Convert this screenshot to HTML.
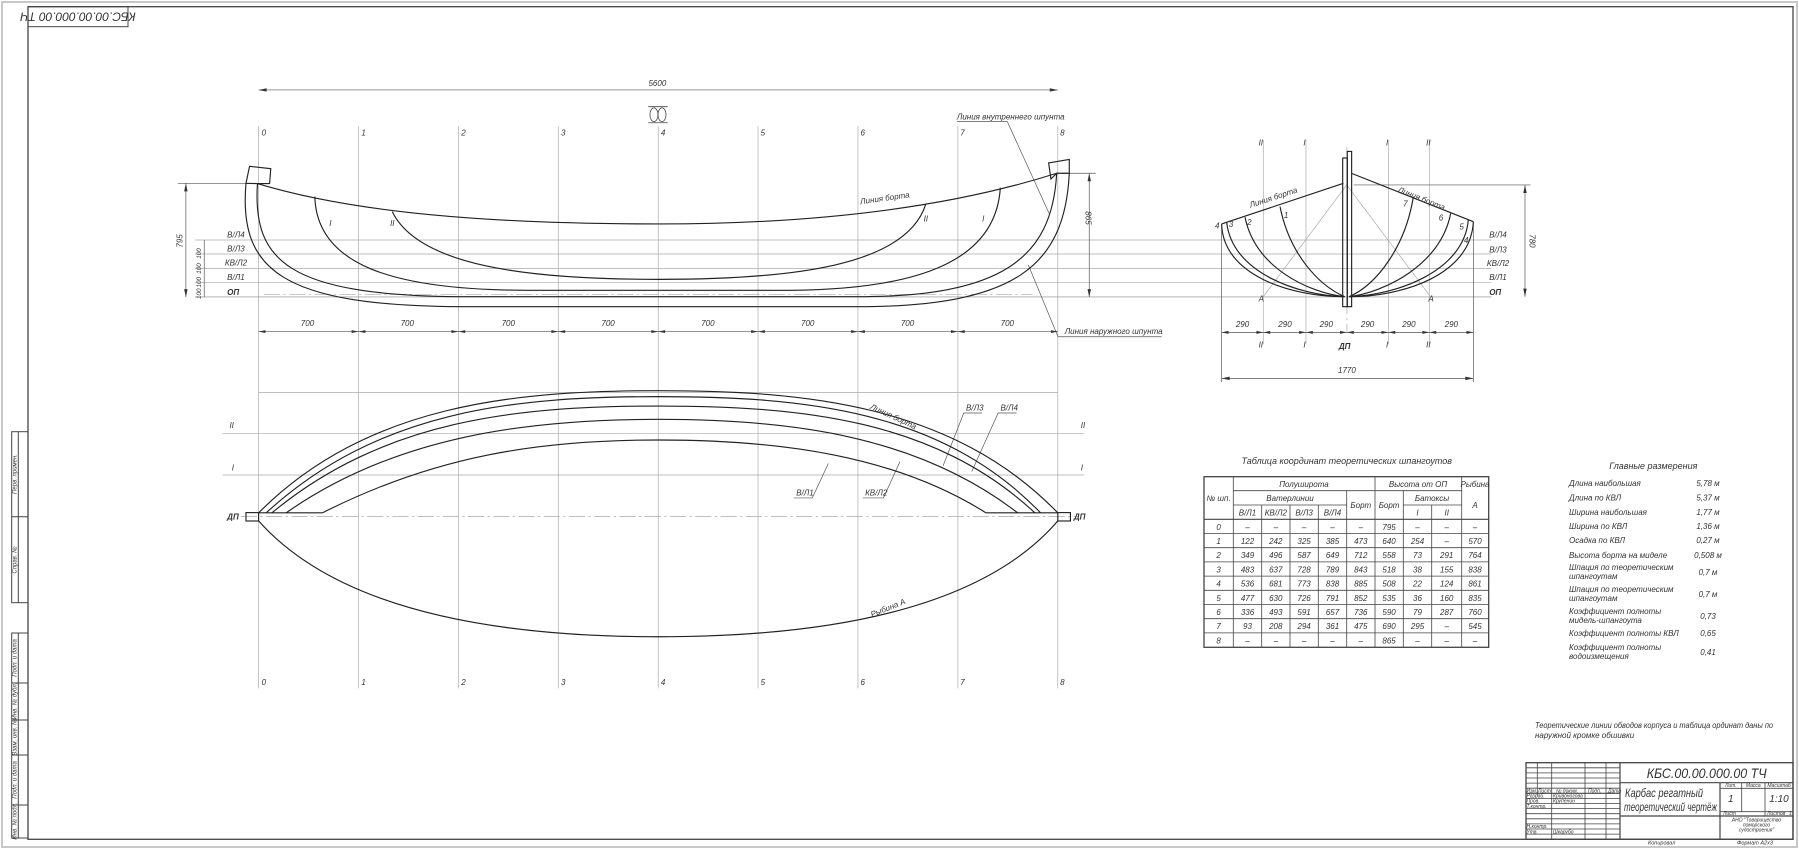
<!DOCTYPE html>
<html><head><meta charset="utf-8"><style>
html,body{margin:0;padding:0;background:#fff}
svg text{font-family:"Liberation Sans Narrow","Liberation Sans",sans-serif;font-style:italic;fill:#333}
</style></head><body>
<svg width="1799" height="849" viewBox="0 0 1799 849" xmlns="http://www.w3.org/2000/svg">
<rect x="0" y="0" width="1799" height="849" fill="#fff"/>
<rect x="2" y="2" width="1795" height="845" fill="none" stroke="#c8c8c8" stroke-width="2"/>
<!-- frame -->
<rect x="28" y="6.7" width="1765" height="832.6" fill="none" stroke="#444" stroke-width="1.3"/>
<rect x="28" y="6.7" width="100" height="20" fill="none" stroke="#444" stroke-width="1"/>
<text x="78" y="16.7" font-size="12" text-anchor="middle" transform="rotate(180 78 16.7)" dy="4">КБС.00.00.000.00 ТЧ</text>
<!-- left strips -->
<g fill="none" stroke="#444" stroke-width="1">
<rect x="11.7" y="431.7" width="16.3" height="171"/>
<line x1="18.3" y1="431.7" x2="18.3" y2="602.7"/>
<line x1="11.7" y1="516.7" x2="28" y2="516.7"/>
<rect x="11.7" y="633" width="16.3" height="205"/>
<line x1="18.3" y1="633" x2="18.3" y2="838"/>
<line x1="11.7" y1="683" x2="28" y2="683"/>
<line x1="11.7" y1="720" x2="28" y2="720"/>
<line x1="11.7" y1="755" x2="28" y2="755"/>
<line x1="11.7" y1="805" x2="28" y2="805"/>
</g>
<g font-size="6">
<text transform="translate(16.5 474) rotate(-90)" text-anchor="middle">Перв. примен.</text>
<text transform="translate(16.5 560) rotate(-90)" text-anchor="middle">Справ. №</text>
<text transform="translate(16.5 658) rotate(-90)" text-anchor="middle">Подп. и дата</text>
<text transform="translate(16.5 701) rotate(-90)" text-anchor="middle">Инв. № дубл.</text>
<text transform="translate(16.5 737) rotate(-90)" text-anchor="middle">Взам. инв. №</text>
<text transform="translate(16.5 780) rotate(-90)" text-anchor="middle">Подп. и дата</text>
<text transform="translate(16.5 821) rotate(-90)" text-anchor="middle">Инв. № подл.</text>
</g>

<g transform="scale(1.1473)">
<g stroke="#aaa" stroke-width="0.6">
<line x1="225.4" y1="110" x2="225.4" y2="600"/>
<line x1="312.5" y1="110" x2="312.5" y2="600"/>
<line x1="399.5" y1="110" x2="399.5" y2="600"/>
<line x1="486.6" y1="110" x2="486.6" y2="600"/>
<line x1="573.7" y1="110" x2="573.7" y2="600"/>
<line x1="660.7" y1="110" x2="660.7" y2="600"/>
<line x1="747.8" y1="110" x2="747.8" y2="600"/>
<line x1="834.9" y1="110" x2="834.9" y2="600"/>
<line x1="922" y1="110" x2="922" y2="600"/>
<line x1="170" y1="209.2" x2="1300" y2="209.2"/>
<line x1="170" y1="221.4" x2="1300" y2="221.4"/>
<line x1="170" y1="233.9" x2="1300" y2="233.9"/>
<line x1="170" y1="246.4" x2="1300" y2="246.4"/>
<line x1="170" y1="258.8" x2="1300" y2="258.8" stroke="#888"/>
<line x1="225.4" y1="342" x2="922" y2="342"/>
<line x1="194" y1="377.7" x2="945" y2="377.7"/>
<line x1="194" y1="414" x2="945" y2="414"/>
<line x1="210" y1="450.3" x2="940" y2="450.3" stroke-dasharray="14 3 2 3"/>
<line x1="1101.1" y1="122" x2="1101.1" y2="300"/>
<line x1="1138.3" y1="122" x2="1138.3" y2="300"/>
<line x1="1210.1" y1="122" x2="1210.1" y2="300"/>
<line x1="1245.8" y1="122" x2="1245.8" y2="300"/>
<line x1="1174" y1="128" x2="1174" y2="290" stroke-dasharray="14 3 2 3"/>
<line x1="1173.8" y1="161.2" x2="1101.1" y2="258.6"/>
<line x1="1173.8" y1="161.2" x2="1246.9" y2="258.6"/>
<line x1="230" y1="256.5" x2="900" y2="256.5" stroke-dasharray="14 3 2 3"/>
</g>
<g stroke="#555" stroke-width="0.6" fill="none">
<line x1="225.4" y1="78.4" x2="922" y2="78.4"/>
<line x1="225.4" y1="289" x2="922" y2="289"/>
<line x1="162" y1="159.8" x2="162" y2="259"/>
<line x1="155" y1="159.8" x2="224" y2="159.8"/>
<line x1="178" y1="209.2" x2="178" y2="259"/>
<line x1="949.4" y1="151" x2="949.4" y2="259"/>
<line x1="925" y1="151" x2="955" y2="151"/>
<line x1="1064.8" y1="289.7" x2="1284.2" y2="289.7"/>
<line x1="1064.8" y1="329.8" x2="1284.2" y2="329.8"/>
<line x1="1064.8" y1="196" x2="1064.8" y2="333"/>
<line x1="1284.2" y1="194" x2="1284.2" y2="333"/>
<line x1="1329.2" y1="161.2" x2="1329.2" y2="258.6"/>
<line x1="1180" y1="161.2" x2="1334" y2="161.2"/>
<polyline points="834,106 878,106 914.4,186"/>
<polyline points="896.3,231 922.2,293.5 1012.5,293.5"/>
<polyline points="822,406 840,360 856,360"/>
<polyline points="847,411 870,360 886,360"/>
<polyline points="722,404 708,434 692,434"/>
<polyline points="784.4,402.4 770,434 752,434"/>
</g>
<g fill="#333">
<path d="M225.4,78.4 l7,-1.5 v3z M922,78.4 l-7,-1.5 v3z M162,159.8 l-1.5,7 h3z M162,259 l-1.5,-7 h3z M949.4,151 l-1.5,7 h3z M949.4,259 l-1.5,-7 h3z M1329.2,161.2 l-1.5,7 h3z M1329.2,258.6 l-1.5,-7 h3z M1064.8,329.8 l7,-1.5 v3z M1284.2,329.8 l-7,-1.5 v3z"/>
<path d="M225.4,289 l6,-1.3 v2.6z M312.5,289 l-6,-1.3 v2.6z M312.5,289 l6,-1.3 v2.6z M399.5,289 l-6,-1.3 v2.6z M399.5,289 l6,-1.3 v2.6z M486.6,289 l-6,-1.3 v2.6z M486.6,289 l6,-1.3 v2.6z M573.7,289 l-6,-1.3 v2.6z M573.7,289 l6,-1.3 v2.6z M660.7,289 l-6,-1.3 v2.6z M660.7,289 l6,-1.3 v2.6z M747.8,289 l-6,-1.3 v2.6z M747.8,289 l6,-1.3 v2.6z M834.9,289 l-6,-1.3 v2.6z M834.9,289 l6,-1.3 v2.6z M922,289 l-6,-1.3 v2.6z"/>
<path d="M1064.8,289.7 l6,-1.3 v2.6z M1101.1,289.7 l-6,-1.3 v2.6z M1101.1,289.7 l6,-1.3 v2.6z M1138.3,289.7 l-6,-1.3 v2.6z M1138.3,289.7 l6,-1.3 v2.6z M1174,289.7 l-6,-1.3 v2.6z M1174,289.7 l6,-1.3 v2.6z M1210.1,289.7 l-6,-1.3 v2.6z M1210.1,289.7 l6,-1.3 v2.6z M1245.8,289.7 l-6,-1.3 v2.6z M1245.8,289.7 l6,-1.3 v2.6z M1284.2,289.7 l-6,-1.3 v2.6z"/>
</g>
<g fill="none" stroke="#222" stroke-width="1">
<path d="M214.4,159.8 C208,235 245,266 399,267.3 L747,267.3 C885,267.3 928,232 932,151"/>
<path d="M224.4,160 C220,228 252,257 399,258.6 L747,258.6 C872,258.6 917,226 921,151"/>
<path d="M224.4,160 C310,186 430,195.2 574.4,195.2 C715,195.2 830,180 921,151"/>
<path d="M274.4,171.4 C276,230 340,253 460,253 L690,253 C800,252 868,228 871.9,163.6"/>
<path d="M341.9,184.5 C365,232 460,243.5 574,243.5 C690,243.5 790,232 806.9,178"/>
<polygon points="217.5,145 236,147 235,160 224.4,160 214.4,159.8"/>
<polygon points="914,142 932,139 932,151 921,151 916,156"/>
<path d="M225.4,447 C320,352 450,340.5 573.9,340.5 C700,340.5 830,352 922,447"/>
<path d="M232,447 C330,357 450,345.7 574,345.7 C700,345.7 820,357 907,447"/>
<path d="M237,447 C335,366 450,353.9 574,353.9 C700,353.9 815,366 902,447"/>
<path d="M249.4,447 C345,380 460,365.5 574,365.5 C690,365.5 800,380 887,447"/>
<path d="M281,447 C380,397 470,383.5 574,383.5 C680,383.5 780,397 859.4,447"/>
<path d="M225.4,447 H281 M859.4,447 H922"/>
<path d="M225.4,454 C300,538 450,555 573.9,555 C700,555 850,538 922,454"/>
<rect x="214.4" y="446.8" width="11" height="7.3"/>
<rect x="922" y="446.8" width="11" height="7.3"/>
<rect x="1170.3" y="137.7" width="4" height="129.6"/>
<rect x="1174.3" y="132" width="3.8" height="135.3"/>
<path d="M1170.9,159.8 L1064.8,195.2 M1178.1,151.1 L1284.2,193.2"/>
<path d="M1064.8,195.2 C1066,240 1125,258.6 1172,258.6"/>
<path d="M1069.2,193.8 C1074,238 1132,257.5 1172,258.6"/>
<path d="M1085.2,189.4 C1094,233 1140,255 1172,258.6"/>
<path d="M1115.7,180.1 C1124,222 1150,249 1172,258.6"/>
<path d="M1284.2,193.2 C1282,240 1222,258.6 1176,258.6"/>
<path d="M1279.8,191.6 C1276,237 1216,257.5 1176,258.6"/>
<path d="M1264.4,186 C1256,231 1206,255 1176,258.6"/>
<path d="M1231.9,171.4 C1225,215 1200,248 1176,258.6"/>
</g>
<g fill="none" stroke="#444" stroke-width="0.7">
<ellipse cx="570" cy="100" rx="3.5" ry="6"/><ellipse cx="577" cy="100" rx="3.5" ry="6"/>
<line x1="565" y1="93" x2="582" y2="93"/><line x1="565" y1="107" x2="582" y2="107"/>
</g>
<g font-size="7">
<text x="573" y="75" text-anchor="middle">5600</text>
<text x="228" y="118">0</text><text x="315" y="118">1</text><text x="402" y="118">2</text><text x="489" y="118">3</text><text x="576" y="118">4</text><text x="663" y="118">5</text><text x="750" y="118">6</text><text x="837" y="118">7</text><text x="924" y="118">8</text>
<text x="228" y="597">0</text><text x="315" y="597">1</text><text x="402" y="597">2</text><text x="489" y="597">3</text><text x="576" y="597">4</text><text x="663" y="597">5</text><text x="750" y="597">6</text><text x="837" y="597">7</text><text x="924" y="597">8</text>
<text x="198" y="207">В/Л4</text><text x="198" y="219">В/Л3</text><text x="196" y="231.5">КВ/Л2</text><text x="198" y="244">В/Л1</text><text x="198" y="257" font-weight="bold">ОП</text>
<text transform="translate(159 210) rotate(-90)" text-anchor="middle">795</text>
<text transform="translate(175 221) rotate(-90)" text-anchor="middle" font-size="5.5">100</text>
<text transform="translate(175 234) rotate(-90)" text-anchor="middle" font-size="5.5">100</text>
<text transform="translate(175 246) rotate(-90)" text-anchor="middle" font-size="5.5">100</text>
<text transform="translate(175 256) rotate(-90)" text-anchor="middle" font-size="5.5">100</text>
<text transform="translate(946 190) rotate(90)" text-anchor="middle">865</text>
<text x="268" y="284" text-anchor="middle">700</text><text x="355" y="284" text-anchor="middle">700</text><text x="443" y="284" text-anchor="middle">700</text><text x="530" y="284" text-anchor="middle">700</text><text x="617" y="284" text-anchor="middle">700</text><text x="704" y="284" text-anchor="middle">700</text><text x="791" y="284" text-anchor="middle">700</text><text x="878" y="284" text-anchor="middle">700</text>
<text x="287" y="197">I</text><text x="340" y="197">II</text><text x="805" y="193">II</text><text x="856" y="193">I</text>
<text transform="translate(750 178) rotate(-8)">Линия борта</text>
<text x="834" y="104">Линия внутреннего шпунта</text>
<text x="928" y="291">Линия наружного шпунта</text>
<text x="200" y="373">II</text><text x="202" y="410">I</text><text x="942" y="373">II</text><text x="942" y="410">I</text>
<text x="198" y="453" font-weight="bold">ДП</text><text x="936" y="453" font-weight="bold">ДП</text>
<text transform="translate(758 356) rotate(25)">Линия борта</text>
<text x="842" y="358">В/Л3</text><text x="872" y="358">В/Л4</text>
<text x="694" y="432">В/Л1</text><text x="754" y="432">КВ/Л2</text>
<text transform="translate(760 538) rotate(-22)">Рыбина А</text>
<text x="1097" y="127">II</text><text x="1136" y="127">I</text><text x="1208" y="127">I</text><text x="1243" y="127">II</text>
<text x="1097" y="303">II</text><text x="1136" y="303">I</text><text x="1208" y="303">I</text><text x="1243" y="303">II</text>
<text x="1167" y="304" font-weight="bold">ДП</text>
<text transform="translate(1090 181) rotate(-18)">Линия борта</text>
<text transform="translate(1218 167) rotate(22)">Линия борта</text>
<text x="1059" y="199">4</text><text x="1071" y="198">3</text><text x="1087" y="196">2</text><text x="1119" y="190">1</text>
<text x="1223" y="180">7</text><text x="1254" y="192">6</text><text x="1272" y="200">5</text><text x="1276" y="212">4</text>
<text x="1097" y="263">A</text><text x="1245" y="263">A</text>
<text x="1298" y="207">В/Л4</text><text x="1298" y="220">В/Л3</text><text x="1296" y="232">КВ/Л2</text><text x="1298" y="244">В/Л1</text><text x="1298" y="257" font-weight="bold">ОП</text>
<text transform="translate(1333 210) rotate(90)" text-anchor="middle">780</text>
<text x="1083" y="285" text-anchor="middle">290</text><text x="1120" y="285" text-anchor="middle">290</text><text x="1156" y="285" text-anchor="middle">290</text><text x="1192" y="285" text-anchor="middle">290</text><text x="1228" y="285" text-anchor="middle">290</text><text x="1265" y="285" text-anchor="middle">290</text>
<text x="1174" y="325" text-anchor="middle">1770</text>
</g>
</g>

<text x="1346.7" y="464" font-size="9" text-anchor="middle">Таблица координат теоретических шпангоутов</text>
<g fill="none" stroke="#444" stroke-width="0.8">
<rect x="1204" y="476.7" width="284.7" height="170.6" stroke-width="1.3"/>
<line x1="1204" y1="519.3" x2="1488.7" y2="519.3" stroke-width="1.2"/>
<line x1="1233.3" y1="476.7" x2="1233.3" y2="647.3"/>
<line x1="1261.7" y1="505" x2="1261.7" y2="647.3"/>
<line x1="1290" y1="505" x2="1290" y2="647.3"/>
<line x1="1318.3" y1="505" x2="1318.3" y2="647.3"/>
<line x1="1346.7" y1="490.7" x2="1346.7" y2="647.3"/>
<line x1="1375" y1="476.7" x2="1375" y2="647.3"/>
<line x1="1403.3" y1="490.7" x2="1403.3" y2="647.3"/>
<line x1="1431.7" y1="505" x2="1431.7" y2="647.3"/>
<line x1="1461.7" y1="476.7" x2="1461.7" y2="647.3"/>
<line x1="1233.3" y1="490.7" x2="1461.7" y2="490.7"/>
<line x1="1233.3" y1="505" x2="1346.7" y2="505"/>
<line x1="1403.3" y1="505" x2="1461.7" y2="505"/>
<path d="M1204 533.5H1488.7M1204 547.7H1488.7M1204 561.9H1488.7M1204 576.1H1488.7M1204 590.3H1488.7M1204 604.5H1488.7M1204 618.7H1488.7M1204 632.9H1488.7"/>
</g>
<g font-size="8" text-anchor="middle">
<text x="1218.6" y="501">№ шп.</text>
<text x="1304" y="487">Полуширота</text>
<text x="1290" y="501">Ватерлинии</text>
<text x="1247.5" y="515.5">В/Л1</text><text x="1275.8" y="515.5">КВ/Л2</text><text x="1304.1" y="515.5">В/Л3</text><text x="1332.5" y="515.5">В/Л4</text>
<text x="1360.8" y="508">Борт</text><text x="1389.1" y="508">Борт</text>
<text x="1418" y="487">Высота от ОП</text><text x="1475" y="487">Рыбина</text>
<text x="1432" y="501">Батоксы</text><text x="1417.5" y="515.5">I</text><text x="1446.7" y="515.5">II</text><text x="1475" y="508">A</text>
</g>
<g font-size="8" text-anchor="middle">
<text y="530" x="1218.6">0</text><text y="530" x="1247.5">–</text><text y="530" x="1275.8">–</text><text y="530" x="1304.1">–</text><text y="530" x="1332.5">–</text><text y="530" x="1360.8">–</text><text y="530" x="1389.1">795</text><text y="530" x="1417.5">–</text><text y="530" x="1446.7">–</text><text y="530" x="1475">–</text>
<text y="544" x="1218.6">1</text><text y="544" x="1247.5">122</text><text y="544" x="1275.8">242</text><text y="544" x="1304.1">325</text><text y="544" x="1332.5">385</text><text y="544" x="1360.8">473</text><text y="544" x="1389.1">640</text><text y="544" x="1417.5">254</text><text y="544" x="1446.7">–</text><text y="544" x="1475">570</text>
<text y="558.2" x="1218.6">2</text><text y="558.2" x="1247.5">349</text><text y="558.2" x="1275.8">496</text><text y="558.2" x="1304.1">587</text><text y="558.2" x="1332.5">649</text><text y="558.2" x="1360.8">712</text><text y="558.2" x="1389.1">558</text><text y="558.2" x="1417.5">73</text><text y="558.2" x="1446.7">291</text><text y="558.2" x="1475">764</text>
<text y="572.4" x="1218.6">3</text><text y="572.4" x="1247.5">483</text><text y="572.4" x="1275.8">637</text><text y="572.4" x="1304.1">728</text><text y="572.4" x="1332.5">789</text><text y="572.4" x="1360.8">843</text><text y="572.4" x="1389.1">518</text><text y="572.4" x="1417.5">38</text><text y="572.4" x="1446.7">155</text><text y="572.4" x="1475">838</text>
<text y="586.6" x="1218.6">4</text><text y="586.6" x="1247.5">536</text><text y="586.6" x="1275.8">681</text><text y="586.6" x="1304.1">773</text><text y="586.6" x="1332.5">838</text><text y="586.6" x="1360.8">885</text><text y="586.6" x="1389.1">508</text><text y="586.6" x="1417.5">22</text><text y="586.6" x="1446.7">124</text><text y="586.6" x="1475">861</text>
<text y="600.8" x="1218.6">5</text><text y="600.8" x="1247.5">477</text><text y="600.8" x="1275.8">630</text><text y="600.8" x="1304.1">726</text><text y="600.8" x="1332.5">791</text><text y="600.8" x="1360.8">852</text><text y="600.8" x="1389.1">535</text><text y="600.8" x="1417.5">36</text><text y="600.8" x="1446.7">160</text><text y="600.8" x="1475">835</text>
<text y="615" x="1218.6">6</text><text y="615" x="1247.5">336</text><text y="615" x="1275.8">493</text><text y="615" x="1304.1">591</text><text y="615" x="1332.5">657</text><text y="615" x="1360.8">736</text><text y="615" x="1389.1">590</text><text y="615" x="1417.5">79</text><text y="615" x="1446.7">287</text><text y="615" x="1475">760</text>
<text y="629.2" x="1218.6">7</text><text y="629.2" x="1247.5">93</text><text y="629.2" x="1275.8">208</text><text y="629.2" x="1304.1">294</text><text y="629.2" x="1332.5">361</text><text y="629.2" x="1360.8">475</text><text y="629.2" x="1389.1">690</text><text y="629.2" x="1417.5">295</text><text y="629.2" x="1446.7">–</text><text y="629.2" x="1475">545</text>
<text y="643.4" x="1218.6">8</text><text y="643.4" x="1247.5">–</text><text y="643.4" x="1275.8">–</text><text y="643.4" x="1304.1">–</text><text y="643.4" x="1332.5">–</text><text y="643.4" x="1360.8">–</text><text y="643.4" x="1389.1">865</text><text y="643.4" x="1417.5">–</text><text y="643.4" x="1446.7">–</text><text y="643.4" x="1475">–</text>
</g>

<text x="1653.3" y="469" font-size="9" text-anchor="middle">Главные размерения</text>
<g font-size="8">
<text x="1569" y="486">Длина наибольшая</text><text x="1708" y="486" text-anchor="middle">5,78 м</text>
<text x="1569" y="500.5">Длина по КВЛ</text><text x="1708" y="500.5" text-anchor="middle">5,37 м</text>
<text x="1569" y="515">Ширина наибольшая</text><text x="1708" y="515" text-anchor="middle">1,77 м</text>
<text x="1569" y="529">Ширина по КВЛ</text><text x="1708" y="529" text-anchor="middle">1,36 м</text>
<text x="1569" y="543">Осадка по КВЛ</text><text x="1708" y="543" text-anchor="middle">0,27 м</text>
<text x="1569" y="558">Высота борта на миделе</text><text x="1708" y="558" text-anchor="middle">0,508 м</text>
<text x="1569" y="570">Шпация по теоретическим</text><text x="1569" y="579">шпангоутам</text><text x="1708" y="575" text-anchor="middle">0,7 м</text>
<text x="1569" y="592">Шпация по теоретическим</text><text x="1569" y="601">шпангоутам</text><text x="1708" y="597" text-anchor="middle">0,7 м</text>
<text x="1569" y="614">Коэффициент полноты</text><text x="1569" y="623">мидель-шпангоута</text><text x="1708" y="619" text-anchor="middle">0,73</text>
<text x="1569" y="636">Коэффициент полноты КВЛ</text><text x="1708" y="636" text-anchor="middle">0,65</text>
<text x="1569" y="650">Коэффициент полноты</text><text x="1569" y="659">водоизмещения</text><text x="1708" y="655" text-anchor="middle">0,41</text>
</g>
<text x="1535" y="728" font-size="8" textLength="238" lengthAdjust="spacingAndGlyphs">Теоретические линии обводов корпуса и таблица ординат даны по</text>
<text x="1535" y="738" font-size="8">наружной кромке обшивки</text>

<g fill="none" stroke="#444" stroke-width="0.8">
<rect x="1526" y="762.7" width="267" height="76.6" stroke-width="1.3"/>
<line x1="1620" y1="762.7" x2="1620" y2="839.3" stroke-width="1.2"/>
<line x1="1537.3" y1="762.7" x2="1537.3" y2="796"/>
<line x1="1551.7" y1="762.7" x2="1551.7" y2="839.3"/>
<line x1="1585" y1="762.7" x2="1585" y2="839.3"/>
<line x1="1606" y1="762.7" x2="1606" y2="839.3"/>
<path d="M1526 767.8H1620M1526 772.9H1620M1526 778H1620M1526 783.1H1620M1526 788.2H1620M1526 798.4H1620M1526 803.5H1620M1526 808.6H1620M1526 813.7H1620M1526 818.8H1620M1526 823.9H1620M1526 829H1620M1526 834.1H1620"/>
<line x1="1526" y1="793.3" x2="1620" y2="793.3" stroke-width="1.2"/>
<line x1="1620" y1="782.7" x2="1793" y2="782.7" stroke-width="1.2"/>
<line x1="1620" y1="816" x2="1793" y2="816" stroke-width="1.2"/>
<line x1="1720" y1="782.7" x2="1720" y2="839.3" stroke-width="1.2"/>
<line x1="1720" y1="788.3" x2="1793" y2="788.3"/>
<line x1="1720" y1="811.7" x2="1793" y2="811.7"/>
<line x1="1741.7" y1="782.7" x2="1741.7" y2="811.7"/>
<line x1="1765" y1="782.7" x2="1765" y2="816"/>
</g>
<text x="1706.7" y="778" font-size="14" text-anchor="middle" textLength="120" lengthAdjust="spacingAndGlyphs">КБС.00.00.000.00 ТЧ</text>
<text x="1625" y="797" font-size="12" textLength="78" lengthAdjust="spacingAndGlyphs">Карбас регатный</text>
<text x="1624" y="811" font-size="12" textLength="93" lengthAdjust="spacingAndGlyphs">теоретический чертёж</text>
<g font-size="5">
<text x="1730.8" y="787" text-anchor="middle">Лит.</text><text x="1753.3" y="787" text-anchor="middle">Масса</text><text x="1779" y="787" text-anchor="middle">Масштаб</text>
<text x="1723" y="815">Лист</text><text x="1767" y="815">Листов</text><text x="1789" y="815">1</text>
<text x="1526.5" y="792.5">Изм.</text><text x="1538" y="792.5">Лист</text><text x="1556" y="792.5">№ докум.</text><text x="1588" y="792.5">Подп.</text><text x="1608" y="792.5">Дата</text>
<text x="1526.5" y="797.6">Разраб.</text><text x="1553" y="797.6">Кривоногова</text>
<text x="1526.5" y="802.7">Пров.</text><text x="1553" y="802.7">Крупенин</text>
<text x="1526.5" y="807.8">Т.контр.</text>
<text x="1526.5" y="828.2">Н.контр.</text>
<text x="1526.5" y="833.3">Утв.</text><text x="1553" y="833.3">Шкарубо</text>
<text x="1756.5" y="821.5" text-anchor="middle">АНО "Товарищество</text>
<text x="1756.5" y="826.5" text-anchor="middle">поморского</text>
<text x="1756.5" y="831.5" text-anchor="middle">судостроения"</text>
<text x="1648" y="844.5" font-size="5.5">Копировал</text>
<text x="1737" y="844.5" font-size="5.5">Формат   А2х3</text>
</g>
<text x="1730.8" y="802" font-size="10" text-anchor="middle">1</text>
<text x="1779" y="802" font-size="10" text-anchor="middle">1:10</text>
</svg>
</body></html>
